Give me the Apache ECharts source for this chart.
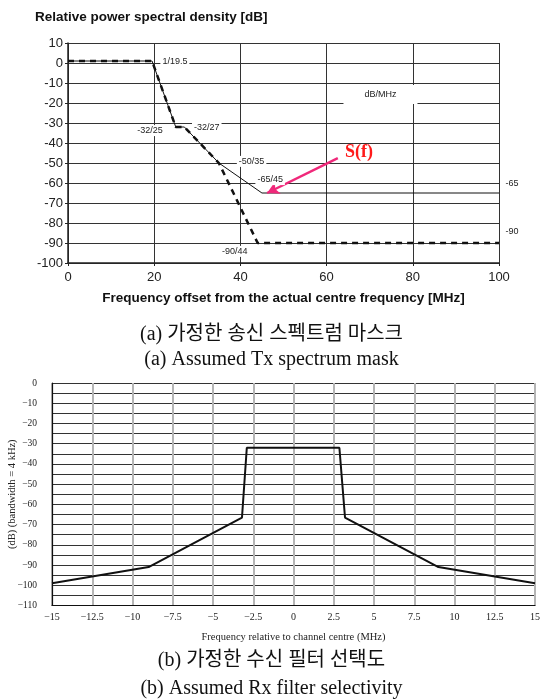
<!DOCTYPE html>
<html>
<head>
<meta charset="utf-8">
<script src="https://cdn.jsdelivr.net/npm/echarts@6/dist/echarts.min.js"></script>
<style>html,body{margin:0;padding:0;background:#fff}#c{width:543px;height:700px}</style>
</head>
<body>
<div id="c"></div>
<script>
// ---- Chart (a): Tx spectrum mask ----
const txFreq = [0, 19.5, 25, 27, 35, 45, 100];
const txMaskSolid = [1, 1, -32, -32, -50, -65, -65];
const txFreqDashed = [0, 19.5, 25, 27, 35, 44, 100];
const txMaskDashed = [1, 1, -32, -32, -50, -90, -90];
const txXTicks = [0, 20, 40, 60, 80, 100];
const txYTicks = [-100, -90, -80, -70, -60, -50, -40, -30, -20, -10, 0, 10];

// ---- Chart (b): Rx filter selectivity ----
const rxFreq = [-15, -9, -3.2, -2.9, 2.85, 3.2, 9, 15];
const rxAtten = [-99, -91, -66.5, -32, -32, -66.5, -91, -99];

// annotation labels for chart (a)
const annoText = ['1/19.5', '-32/25', '-32/27', '-50/35', '-65/45', '-90/44', '-65', '-90'];
const annoX = [24.8, 19.0, 32.2, 42.6, 46.9, 38.7, 103, 103];
const annoY = [0.8, -33.8, -32.5, -49.2, -58.3, -94.2, -60.3, -84.5];

const sans = 'Liberation Sans, Arial, sans-serif';
const serif = 'Liberation Serif, Times New Roman, Noto Sans CJK KR, serif';
const minus = v => String(v).replace('-', '\u2212');

const chart = echarts.init(document.getElementById('c'), null, {renderer: 'canvas'});
const pairs = (xs, ys) => xs.map((x, i) => [x, ys[i]]);
const capStyle = {fontFamily: serif, fontSize: 20, fontWeight: 'normal', color: '#111'};

chart.setOption({
  animation: false,
  backgroundColor: '#fff',
  title: [
    {text: 'Relative power spectral density [dB]', left: 30, top: 5,
     textStyle: {fontFamily: sans, fontSize: 13.5, fontWeight: 'bold', color: '#111'}},
    {text: '(a) 가정한 송신 스펙트럼 마스크', left: 'center', top: 320, textStyle: capStyle},
    {text: '(a) Assumed Tx spectrum mask', left: 'center', top: 345, textStyle: capStyle},
    {text: '(b) 가정한 수신 필터 선택도', left: 'center', top: 646, textStyle: capStyle},
    {text: '(b) Assumed Rx filter selectivity', left: 'center', top: 674, textStyle: capStyle}
  ],
  grid: [
    {left: 68, top: 43, width: 431, height: 220, containLabel: false, outerBoundsMode: 'none'},
    {left: 52, top: 383, width: 483, height: 222.5, containLabel: false, outerBoundsMode: 'none'}
  ],
  xAxis: [
    {type: 'value', gridIndex: 0, min: 0, max: 100, interval: 20,
     name: 'Frequency offset from the actual centre frequency [MHz]',
     nameLocation: 'middle', nameGap: 28, nameMoveOverlap: false,
     nameTextStyle: {fontFamily: sans, fontSize: 13.5, fontWeight: 'bold', color: '#111'},
     axisLine: {show: true, onZero: false, lineStyle: {color: '#222', width: 1.5}},
     axisTick: {show: true, length: 3, lineStyle: {color: '#222'}},
     axisLabel: {fontFamily: sans, fontSize: 13, color: '#222', margin: 8},
     splitLine: {show: true, lineStyle: {color: '#333', width: 1}}},
    {type: 'value', gridIndex: 1, min: -15, max: 15, interval: 2.5,
     name: 'Frequency relative to channel centre (MHz)',
     nameLocation: 'middle', nameGap: 26, nameMoveOverlap: false,
     nameTextStyle: {fontFamily: serif, fontSize: 10.5, color: '#222'},
     axisLine: {show: true, onZero: false, lineStyle: {color: '#111', width: 1.2}},
     axisTick: {show: false},
     axisLabel: {fontFamily: serif, fontSize: 10, color: '#222', margin: 7, formatter: minus},
     splitLine: {show: true, lineStyle: {color: '#b5b5b5', width: 2}}}
  ],
  yAxis: [
    {type: 'value', gridIndex: 0, min: -100, max: 10, interval: 10,
     axisLine: {show: true, onZero: false, lineStyle: {color: '#222', width: 1.5}},
     axisTick: {show: true, length: 3, lineStyle: {color: '#222'}},
     axisLabel: {fontFamily: sans, fontSize: 13, color: '#222', margin: 5},
     splitLine: {show: true, lineStyle: {color: '#333', width: 1}}},
    {type: 'value', gridIndex: 1, min: -110, max: 0, interval: 10,
     name: '(dB) (bandwidth = 4 kHz)', nameLocation: 'middle', nameGap: 35, nameRotate: 90,
     nameMoveOverlap: false,
     nameTextStyle: {fontFamily: serif, fontSize: 10.5, color: '#222'},
     axisLine: {show: true, onZero: false, lineStyle: {color: '#111', width: 1.2}},
     axisTick: {show: false},
     axisLabel: {fontFamily: serif, fontSize: 9.5, color: '#222', margin: 15, formatter: minus},
     minorTick: {show: false, splitNumber: 2},
     minorSplitLine: {show: true, lineStyle: {color: '#333', width: 1}},
     splitLine: {show: true, lineStyle: {color: '#333', width: 1}}}
  ],
  series: [
    {type: 'line', xAxisIndex: 0, yAxisIndex: 0, data: pairs(txFreq, txMaskSolid),
     symbol: 'none', lineStyle: {color: '#111', width: 1}, z: 3,
     markLine: {silent: true, symbol: ['none', 'arrow'], symbolSize: [10, 12],
       label: {show: false},
       lineStyle: {color: '#f0287a', width: 2.5, type: 'solid'},
       data: [[{coord: [62.6, -47.6]}, {coord: [46.2, -65]}]]}},
    {type: 'line', xAxisIndex: 0, yAxisIndex: 0, data: pairs(txFreqDashed, txMaskDashed),
     symbol: 'none', lineStyle: {color: '#111', width: 2.5, type: [6, 5]}, z: 4},
    {type: 'scatter', xAxisIndex: 0, yAxisIndex: 0, clip: false, symbolSize: 0, z: 5,
     itemStyle: {opacity: 1},
     data: annoText.map((t, i) => ({name: t, value: [annoX[i], annoY[i]]})),
     label: {show: true, position: 'inside', formatter: p => p.name,
       fontFamily: sans, fontSize: 9, color: '#222', backgroundColor: '#fff', padding: [1, 2]}},
    {type: 'scatter', xAxisIndex: 0, yAxisIndex: 0, clip: false, symbolSize: 0, z: 5,
     itemStyle: {opacity: 1},
     data: [{name: 'dB/MHz', value: [72.5, -15.8]}],
     label: {show: true, position: 'inside', formatter: p => p.name,
       fontFamily: sans, fontSize: 9, color: '#222', backgroundColor: '#fff', padding: [5, 21]}},
    {type: 'scatter', xAxisIndex: 0, yAxisIndex: 0, clip: false, symbolSize: 0, z: 6,
     itemStyle: {opacity: 1},
     data: [{name: 'S(f)', value: [67.5, -44.6]}],
     label: {show: true, position: 'inside', formatter: p => p.name,
       fontFamily: serif, fontSize: 18, fontWeight: 'bold', color: '#ff1a1a'}},
    {type: 'line', xAxisIndex: 1, yAxisIndex: 1, data: pairs(rxFreq, rxAtten),
     symbol: 'none', lineStyle: {color: '#111', width: 2}, z: 3}
  ]
});
</script>
</body>
</html>
